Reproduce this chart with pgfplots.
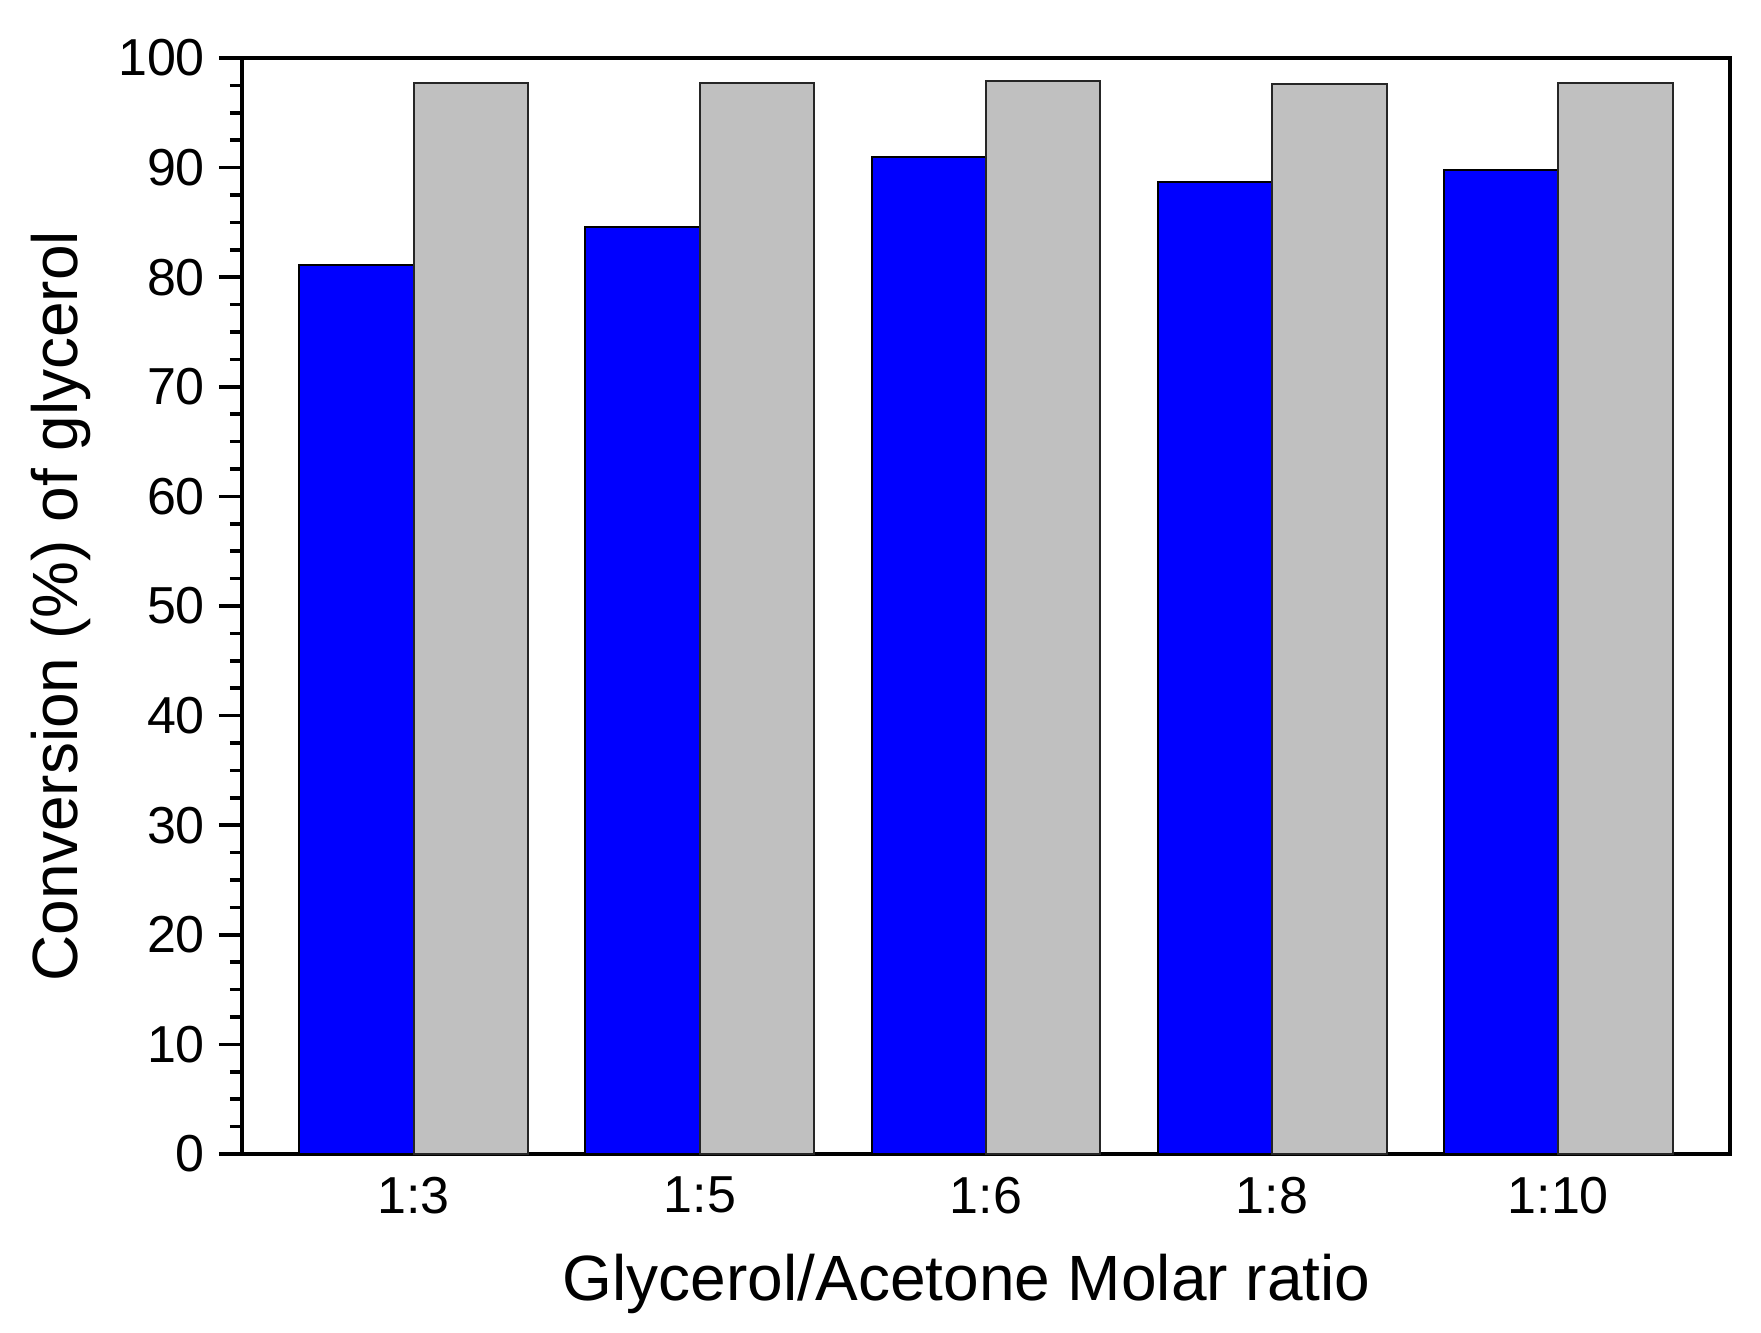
\documentclass[border=0pt]{standalone}
\usepackage{fontspec}
\setmainfont{Liberation Sans}
\usepackage{pgfplots}
\pgfplotsset{compat=1.18}
\definecolor{barblue}{RGB}{0,0,255}
\definecolor{bargray}{RGB}{192,192,192}
\begin{document}
\begin{tikzpicture}
\begin{axis}[
  scale only axis,
  width=372pt, height=274pt,
  xmin=-0.6, xmax=4.6,
  ymin=0, ymax=100,
  axis line style={line width=0.9pt},
  xtick={0,1,2,3,4},
  xticklabels={1:3,1:5,1:6,1:8,1:10},
  major x tick style={draw=none},
  ytick={0,10,...,100},
  minor y tick num=3,
  tick align=outside,
  ytick pos=left,
  xtick pos=bottom,
  major tick length=5.75pt,
  minor tick length=3pt,
  every tick/.style={line width=0.9pt, black},
  /pgf/number format/assume math mode=true,
  tick label style={font=\fontsize{13}{15}\selectfont},
  xticklabel style={yshift=3.5pt},
  label style={font=\fontsize{16}{19}\selectfont},
  xlabel={Glycerol/Acetone Molar ratio},
  ylabel={Conversion (\%) of glycerol},
  xlabel style={at={(axis description cs:0.487,0)}, anchor=base, yshift=-36.5pt},
  ylabel style={at={(axis description cs:-0.122,0.5)}, anchor=center},
  clip=false,
]
\addplot[ybar, bar width=0.4, bar shift=-0.2, fill=barblue, draw=black, line width=0.5pt]
  coordinates {(0,81.1) (1,84.6) (2,91.0) (3,88.7) (4,89.8)};
\addplot[ybar, bar width=0.4, bar shift=0.2, fill=bargray, draw=black!85, line width=0.5pt]
  coordinates {(0,97.7) (1,97.7) (2,97.9) (3,97.6) (4,97.7)};
\end{axis}
\pgfresetboundingbox
\path (current axis.south west) ++(-60.5pt,-44.5pt) rectangle ++(440.25pt,333pt);
\end{tikzpicture}
\end{document}
